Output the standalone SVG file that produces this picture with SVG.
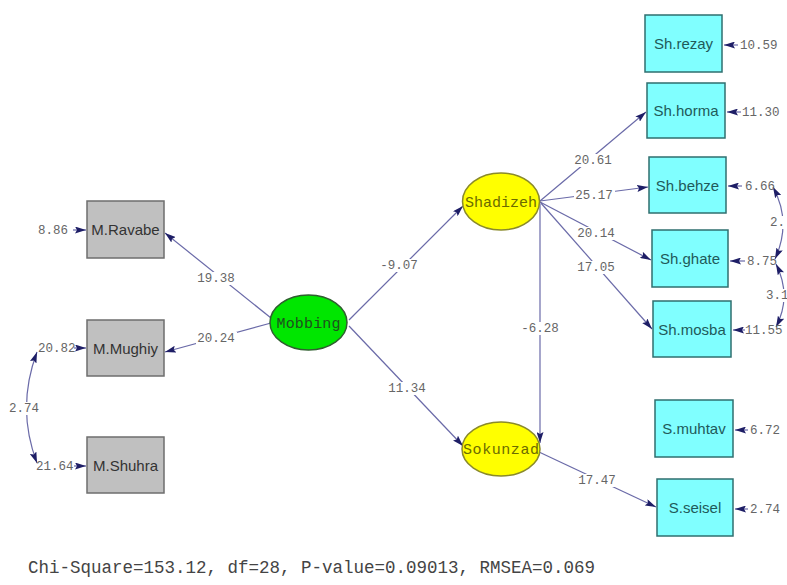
<svg xmlns="http://www.w3.org/2000/svg" width="787" height="585" viewBox="0 0 787 585">
<defs>
<marker id="ah" viewBox="0 0 11 7" refX="11" refY="3.5" markerWidth="11" markerHeight="7" markerUnits="userSpaceOnUse" orient="auto-start-reverse">
<path d="M0,0 L11,3.5 L0,7 L2,3.5 z" fill="#1e1e66"/>
</marker>
<style>
.gbox{fill:#c0c0c0;stroke:#6e6e6e;stroke-width:1.5}
.cbox{fill:#80ffff;stroke:#2f6f6f;stroke-width:1.5}
.btxt{font-family:"Liberation Sans",Arial,sans-serif;font-size:15px;text-anchor:middle}
.gt{fill:#333}
.ct{fill:#1f5a5a}
.ell{font-family:"Liberation Mono","Courier New",monospace;font-size:15px;text-anchor:middle}
.lbl{font-family:"Liberation Mono","Courier New",monospace;font-size:12.5px;fill:#666}
.bg{fill:#fff}
.mid{text-anchor:middle}
.ln{fill:none;stroke:#6a6aa8;stroke-width:1.2}
.arr{marker-end:url(#ah)}
.dbl{marker-start:url(#ah);marker-end:url(#ah)}
.foot{font-family:"Liberation Mono","Courier New",monospace;font-size:17.5px;fill:#444}
</style>
</defs>
<rect width="787" height="585" fill="#fff"/>

<g id="connectors">
<path class="ln arr" d="M271,318 L165,233"/>
<path class="ln arr" d="M271,323 L165,352"/>
<path class="ln arr" d="M349,320 L463,206"/>
<path class="ln arr" d="M349,326 L463,446"/>
<path class="ln arr" d="M540,201 L646,112"/>
<path class="ln arr" d="M540,201 L648,187"/>
<path class="ln arr" d="M540,202 L651,260"/>
<path class="ln arr" d="M540,202 L652,329"/>
<path class="ln arr" d="M540,204 L540,443"/>
<path class="ln arr" d="M539,452 L656,507"/>
<path class="ln arr" d="M73,230 L86,230"/>
<path class="ln arr" d="M74,348 L86,348"/>
<path class="ln arr" d="M74,466 L86,466"/>
<path class="ln arr" d="M738,45 L724,45"/>
<path class="ln arr" d="M741,112 L727,112"/>
<path class="ln arr" d="M742,186 L728,186"/>
<path class="ln arr" d="M745,261 L730,261"/>
<path class="ln arr" d="M745,330 L733,330"/>
<path class="ln arr" d="M748,430 L735,430"/>
<path class="ln arr" d="M748,509 L735,509"/>
<path class="ln dbl" d="M37,352 Q16,408 37,463"/>
<path class="ln dbl" d="M773,187 Q792,222 775,259"/>
<path class="ln dbl" d="M776,264 Q792,296 776,327"/>
<rect class="bg" x="196" y="272" width="41" height="13"/><text class="lbl mid" x="216" y="282">19.38</text>
<rect class="bg" x="196" y="332" width="41" height="13"/><text class="lbl mid" x="216" y="342">20.24</text>
<rect class="bg" x="379" y="259" width="41" height="13"/><text class="lbl mid" x="399" y="269">-9.07</text>
<rect class="bg" x="387" y="382" width="41" height="13"/><text class="lbl mid" x="407" y="392">11.34</text>
<rect class="bg" x="573" y="154" width="41" height="13"/><text class="lbl mid" x="593" y="164">20.61</text>
<rect class="bg" x="574" y="189" width="41" height="13"/><text class="lbl mid" x="594" y="199">25.17</text>
<rect class="bg" x="576" y="227" width="41" height="13"/><text class="lbl mid" x="596" y="237">20.14</text>
<rect class="bg" x="576" y="261" width="41" height="13"/><text class="lbl mid" x="596" y="271">17.05</text>
<rect class="bg" x="520" y="322" width="41" height="13"/><text class="lbl mid" x="540" y="332">-6.28</text>
<rect class="bg" x="577" y="474" width="41" height="13"/><text class="lbl mid" x="597" y="484">17.47</text>
<rect class="bg" x="7" y="402" width="34" height="13"/><text class="lbl mid" x="24" y="412">2.74</text>
<rect class="bg" x="769" y="216" width="18" height="13"/><text class="lbl" x="770" y="226">2.</text>
<rect class="bg" x="765" y="289" width="22" height="13"/><text class="lbl" x="766" y="299">3.1</text>
<text class="lbl" x="38" y="234">8.86</text>
<text class="lbl" x="38" y="352">20.82</text>
<text class="lbl" x="36" y="470">21.64</text>
<text class="lbl" x="740" y="49">10.59</text>
<text class="lbl" x="742" y="116">11.30</text>
<text class="lbl" x="745" y="190">6.66</text>
<text class="lbl" x="747" y="265">8.75</text>
<text class="lbl" x="745" y="334">11.55</text>
<text class="lbl" x="750" y="434">6.72</text>
<text class="lbl" x="750" y="513">2.74</text>
</g>

<g id="M.Ravabe"><rect class="gbox" x="87" y="201" width="77" height="57"/><text class="btxt gt" x="125.5" y="235">M.Ravabe</text></g>
<g id="M.Mughiy"><rect class="gbox" x="87" y="320" width="77" height="56"/><text class="btxt gt" x="125.5" y="353.5">M.Mughiy</text></g>
<g id="M.Shuhra"><rect class="gbox" x="87" y="437" width="77" height="56"/><text class="btxt gt" x="125.5" y="470.5">M.Shuhra</text></g>

<g id="Mobbing"><ellipse cx="308.5" cy="322.5" rx="38.5" ry="27.5" fill="#00e600" stroke="#2f5f2f" stroke-width="1.5"/><text class="ell" x="308.5" y="327.5" fill="#1f4f1f" textLength="64">Mobbing</text></g>
<g id="Shadizeh"><ellipse cx="501" cy="201.5" rx="38.5" ry="28.5" fill="#ffff00" stroke="#8a8a2a" stroke-width="1.5"/><text class="ell" x="501" y="206.5" fill="#6b6b00" textLength="72">Shadizeh</text></g>
<g id="Sokunzad"><ellipse cx="501" cy="449" rx="39" ry="27" fill="#ffff00" stroke="#8a8a2a" stroke-width="1.5"/><text class="ell" x="501" y="454" fill="#6b6b00" textLength="76">Sokunzad</text></g>

<g id="Sh.rezay"><rect class="cbox" x="645" y="15" width="77" height="57"/><text class="btxt ct" x="683.5" y="49">Sh.rezay</text></g>
<g id="Sh.horma"><rect class="cbox" x="647" y="83" width="78" height="55"/><text class="btxt ct" x="686" y="116">Sh.horma</text></g>
<g id="Sh.behze"><rect class="cbox" x="649" y="157" width="77" height="56"/><text class="btxt ct" x="687.5" y="190.5">Sh.behze</text></g>
<g id="Sh.ghate"><rect class="cbox" x="652" y="230" width="76" height="57"/><text class="btxt ct" x="690" y="264">Sh.ghate</text></g>
<g id="Sh.mosba"><rect class="cbox" x="653" y="301" width="78" height="56"/><text class="btxt ct" x="692" y="334.5">Sh.mosba</text></g>
<g id="S.muhtav"><rect class="cbox" x="655" y="400" width="78" height="57"/><text class="btxt ct" x="694" y="434">S.muhtav</text></g>
<g id="S.seisel"><rect class="cbox" x="657" y="479" width="76" height="57"/><text class="btxt ct" x="695" y="513">S.seisel</text></g>

<text class="foot" x="28" y="573">Chi-Square=153.12, df=28, P-value=0.09013, RMSEA=0.069</text>
</svg>
